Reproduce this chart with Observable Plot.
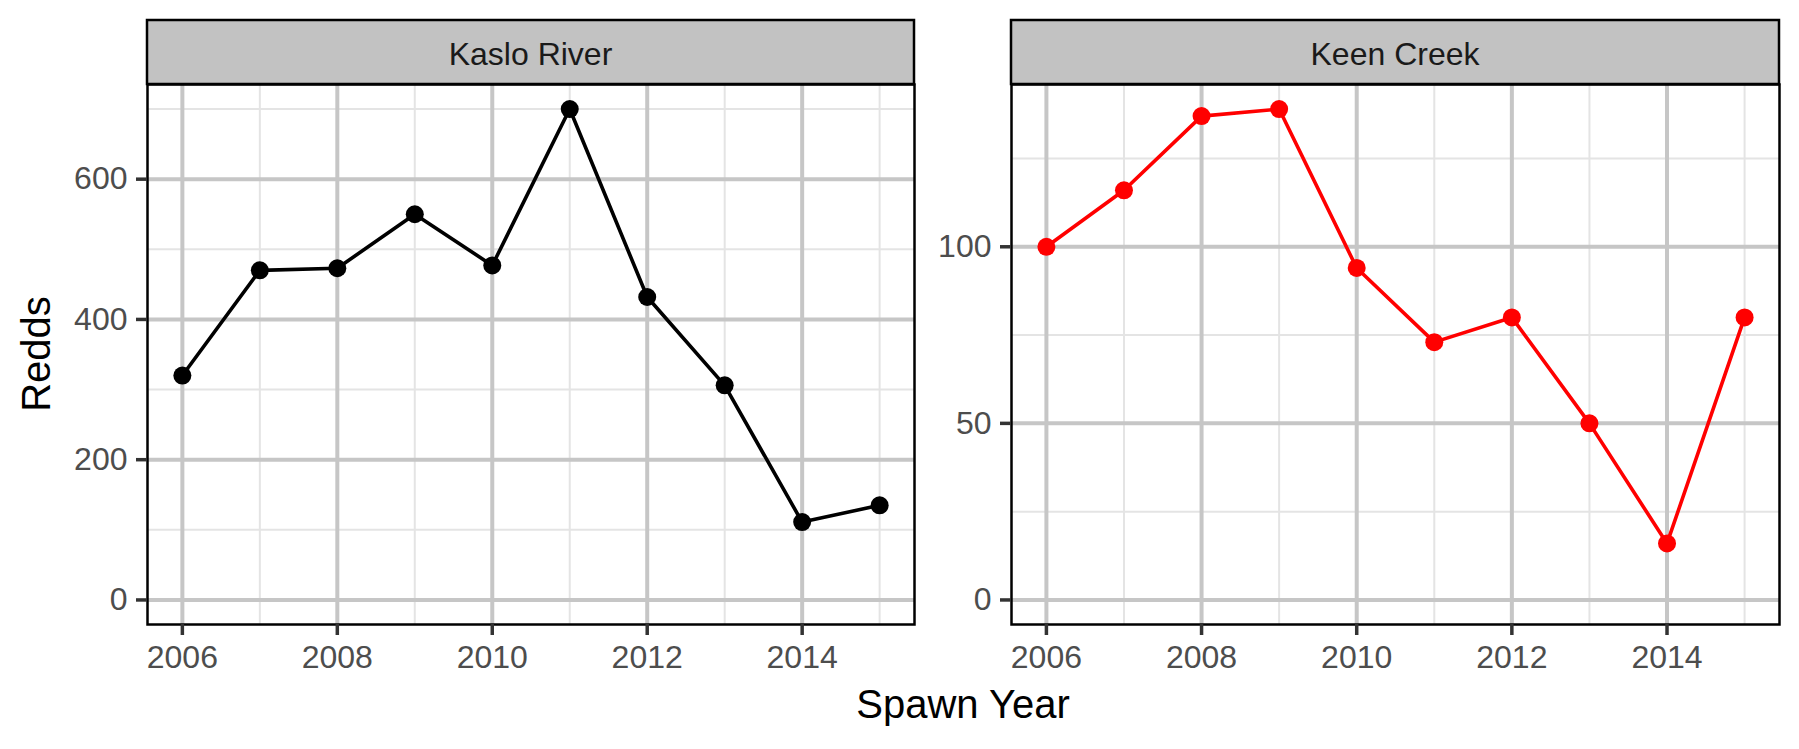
<!DOCTYPE html>
<html>
<head>
<meta charset="utf-8">
<script src="https://cdn.jsdelivr.net/npm/d3@7"></script>
<script src="https://cdn.jsdelivr.net/npm/@observablehq/plot@0.6"></script>
<style>
  body { margin: 0; background: #fff; }
  #chart { position: relative; width: 1799px; height: 749px; font-family: "Liberation Sans", Arial, sans-serif; }
  #chart > svg, #chart > figure { position: absolute; top: 0; margin: 0; }
  #overlay { left: 0; pointer-events: none; }
</style>
</head>
<body>
<div id="chart"></div>
<script>
// ---- data ----
const years = [2006, 2007, 2008, 2009, 2010, 2011, 2012, 2013, 2014, 2015];
const kasloRedds = [320, 470, 473, 550, 477, 700, 432, 306, 111, 135];
const keenRedds = [100, 116, 137, 139, 94, 73, 80, 50, 16, 80];
const panelNames = ["Kaslo River", "Keen Creek"];
const panelColors = ["#000000", "#ff0000"];
const xMajor = [2006, 2008, 2010, 2012, 2014];
const xMinor = [2007, 2009, 2011, 2013, 2015];
const kasloYMajor = [0, 200, 400, 600];
const kasloYMinor = [100, 300, 500, 700];
const keenYMajor = [0, 50, 100];
const keenYMinor = [25, 75, 125];
const xTitle = "Spawn Year";
const yTitle = "Redds";

const FONT = '"Liberation Sans", Arial, sans-serif';
const H = 690, MT = 84, MB = 66;

function expand(lo, hi, f) { const r = hi - lo; return [lo - r * f, hi + r * f]; }

function panel(values, yMajor, yMinor, color, width, marginLeft, marginRight) {
  const data = years.map((y, i) => ({year: y, v: values[i]}));
  const xd = expand(d3.min(years), d3.max(years), 0.05);
  const yd = expand(0, d3.max(values), 0.05);
  return Plot.plot({
    width, height: H,
    marginLeft, marginRight, marginTop: MT, marginBottom: MB,
    style: {fontFamily: FONT, fontSize: "32px", background: "transparent", overflow: "visible"},
    x: {domain: xd},
    y: {domain: yd},
    marks: [
      Plot.ruleX(xMinor, {stroke: "#e4e4e4", strokeWidth: 2}),
      Plot.ruleY(yMinor, {stroke: "#e4e4e4", strokeWidth: 2}),
      Plot.ruleX(xMajor, {stroke: "#c6c6c6", strokeWidth: 4}),
      Plot.ruleY(yMajor, {stroke: "#c6c6c6", strokeWidth: 4}),
      Plot.line(data, {x: "year", y: "v", stroke: color, strokeWidth: 3.6}),
      Plot.dot(data, {x: "year", y: "v", r: 9, fill: color, stroke: null}),
      Plot.frame({stroke: "#000", strokeWidth: 2.5}),
      Plot.axisX(xMajor, {tickSize: 11, tickPadding: 10, fontSize: 32, stroke: "#333", strokeWidth: 3.5, fill: "#4d4d4d", tickFormat: d => String(d), label: null}),
      Plot.axisY(yMajor, {tickSize: 11, tickPadding: 9, fontSize: 32, stroke: "#333", strokeWidth: 3.5, fill: "#4d4d4d", tickFormat: d => String(d), label: null})
    ]
  });
}

const chart = document.getElementById("chart");

const p1 = panel(kasloRedds, kasloYMajor, kasloYMinor, panelColors[0], 920, 147, 6);
p1.style.left = "0px";
chart.appendChild(p1);

const p2 = panel(keenRedds, keenYMajor, keenYMinor, panelColors[1], 845, 71, 6);
p2.style.left = "940px";
chart.appendChild(p2);

// overlay: strips and axis titles
const svg = d3.select(chart).append("svg")
  .attr("id", "overlay").attr("width", 1799).attr("height", 749)
  .style("font-family", FONT);

const strips = [{x0: 147, x1: 914}, {x0: 1011, x1: 1779}];
strips.forEach((s, i) => {
  svg.append("rect").attr("x", s.x0).attr("y", 20).attr("width", s.x1 - s.x0).attr("height", 64)
    .attr("fill", "#c2c2c2").attr("stroke", "#000").attr("stroke-width", 2.5);
  svg.append("text").attr("x", (s.x0 + s.x1) / 2).attr("y", 65)
    .attr("text-anchor", "middle").attr("font-size", 32).attr("fill", "#1a1a1a")
    .text(panelNames[i]);
});

svg.append("text").attr("x", 963).attr("y", 718).attr("text-anchor", "middle")
  .attr("font-size", 40).attr("fill", "#000").text(xTitle);

svg.append("text").attr("transform", "translate(50,354) rotate(-90)").attr("text-anchor", "middle")
  .attr("font-size", 40).attr("fill", "#000").text(yTitle);
</script>
</body>
</html>
